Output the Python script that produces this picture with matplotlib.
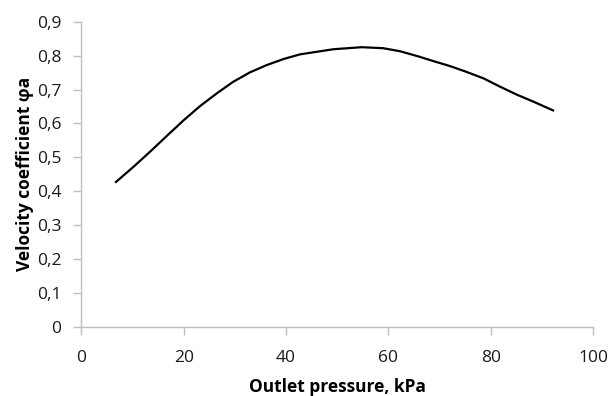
import matplotlib
matplotlib.use("Agg")
import matplotlib.pyplot as plt
from matplotlib.ticker import FuncFormatter

# Values
pressure = [6.6, 10.2, 13.4, 16.7, 19.9, 23.2, 26.5, 29.7, 33.0, 36.2,
            39.5, 42.8, 49.3, 54.8, 59.0, 62.3, 65.6, 68.8, 72.1, 75.3,
            78.6, 81.9, 85.1, 88.4, 92.4]
velocity = [0.425, 0.472, 0.516, 0.563, 0.608, 0.651, 0.689, 0.723, 0.751, 0.772,
            0.790, 0.804, 0.819, 0.825, 0.822, 0.813, 0.799, 0.784, 0.769, 0.752,
            0.733, 0.708, 0.685, 0.664, 0.637]

x_ticks = [0, 20, 40, 60, 80, 100]
y_ticks = [0.0, 0.1, 0.2, 0.3, 0.4, 0.5, 0.6, 0.7, 0.8, 0.9]

plt.rcParams['font.family'] = ['Open Sans', 'DejaVu Sans']

fig = plt.figure(figsize=(6.11, 3.96), dpi=100)
ax = fig.add_axes([0.1331, 0.175, 0.8374, 0.770])

ax.plot(pressure, velocity, color='black', linewidth=1.6,
        solid_joinstyle='round', solid_capstyle='butt')

ax.set_xlim(0, 100)
ax.set_ylim(0, 0.9)
ax.set_xticks(x_ticks)
ax.set_yticks(y_ticks)

def comma_fmt(v, pos):
    if abs(v) < 1e-9:
        return "0"
    return f"{v:.1f}".replace(".", ",")

ax.yaxis.set_major_formatter(FuncFormatter(comma_fmt))

for side in ['top', 'right']:
    ax.spines[side].set_visible(False)
for side in ['left', 'bottom']:
    ax.spines[side].set_color('#bfbfbf')
    ax.spines[side].set_linewidth(1.0)

ax.tick_params(axis='both', direction='out', length=5.5, width=1.0,
               color='#bfbfbf', labelsize=12.5, labelcolor='#1a1a1a')
ax.tick_params(axis='x', pad=11)
ax.tick_params(axis='y', pad=9)

ax.set_xlabel("Outlet pressure, kPa", fontsize=12.5, fontweight='bold', labelpad=9)
ax.set_ylabel("Velocity coefficient φa", fontsize=12.5, fontweight='bold', labelpad=2)

fig.savefig("out.png", dpi=100)
